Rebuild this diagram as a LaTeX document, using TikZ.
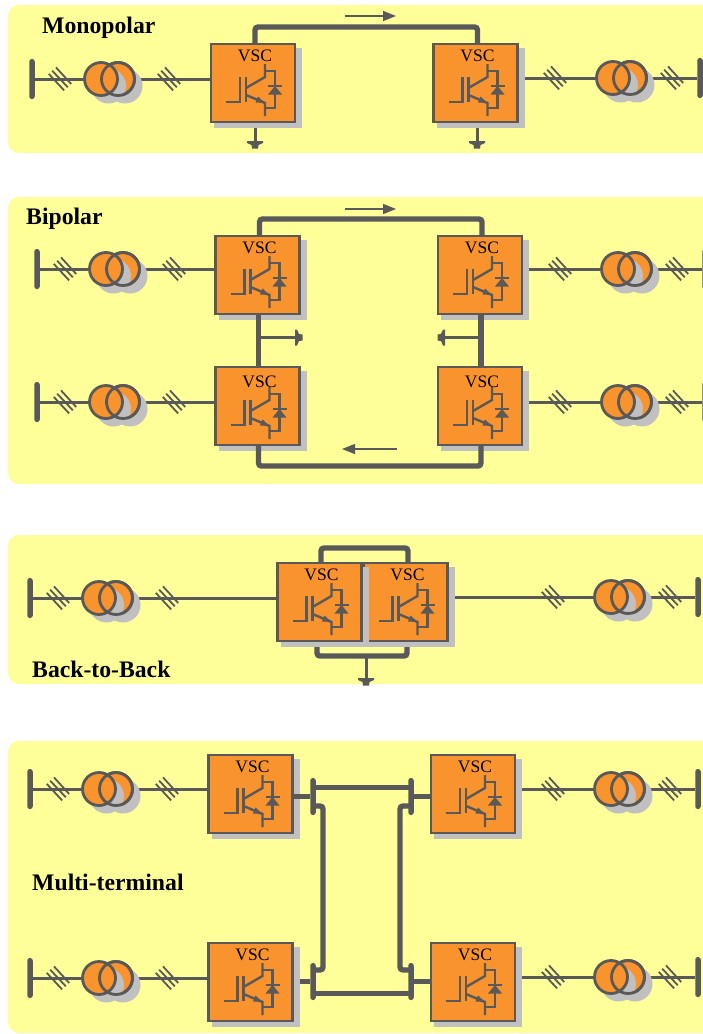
\documentclass[tikz,border=0pt]{standalone}
\usepackage{fontspec}
\setmainfont{Liberation Serif}
\usetikzlibrary{backgrounds,arrows.meta}

\definecolor{panelc}{HTML}{FFFF99}
\definecolor{wirec}{HTML}{595959}
\definecolor{orangec}{HTML}{F9932D}
\definecolor{shadec}{HTML}{C0C0C0}

\tikzset{
	wire/.style={draw=wirec, line width=3pt},
	thinline/.style={draw=wirec, line width=2.4pt},
	dcline/.style={draw=wirec, line width=5.4pt, rounded corners=3pt},
	flow/.style={draw=wirec, line width=1.1pt, -{Stealth[length=13pt,width=10pt,inset=0pt]}},
	panel/.style={fill=panelc, rounded corners=11pt},
	shade/.style={fill=shadec, draw=none},
	title/.style={font=\bfseries\fontsize{23.7}{26}\selectfont, anchor=base west, inner sep=0pt},
	vscnode/.style={draw=wirec, fill=orangec, line width=2.8pt, minimum width=84pt, minimum height=78pt, inner sep=0pt, outer sep=0pt, anchor=north west},
	vsclabel/.style={font=\fontsize{17.5}{19}\selectfont, anchor=base, inner sep=0pt},
	coil/.style={circle, draw=wirec, fill=orangec, line width=2.8pt, minimum size=33pt, inner sep=0pt, outer sep=0pt},
	busbar/.style={fill=wirec, rounded corners=2.5pt, minimum width=5.5pt, minimum height=40pt, inner sep=0pt, outer sep=0pt},
	dcbar/.style={fill=wirec, rounded corners=2.5pt, minimum width=5.5pt, minimum height=37pt, inner sep=0pt, outer sep=0pt},
	pics/vscbox/.style={code={
		\fill[shade] (3,4) rectangle (91,84);
		\node[vscnode] (-box) at (0,0) {};
		\node[vsclabel] (-lbl) at (44,#1) {VSC};
		\draw[thinline] (15,58) -- (29,58) -- (29,33);
		\draw[thinline] (35,33) -- (35,58);
		\draw[thinline] (35,44) -- (54,33) -- (54,20);
		\draw[thinline] (35,51) -- (54,59) -- (54,72);
		\fill[wirec] (54,59) -- (44.5,58.5) -- (47,52.5) -- cycle;
		\draw[thinline] (54,27) -- (64,27) -- (64,64) -- (54,64);
		\fill[wirec] (57,50.5) -- (71,50.5) -- (64,42) -- cycle;
		\draw[thinline] (57,42) -- (71,42);
	}},
	pics/xfmr/.style={code={
		\fill[shade] (15.5,7) circle [radius=17.5];
		\node[coil] (-b) at (8.5,0) {};
		\fill[shade] (-1,7) circle [radius=17.5];
		\node[coil] (-a) at (-8.5,0) {};
		\draw[draw=wirec, line width=2.8pt] (8.5,0) circle [radius=16.5];
	}},
	pics/ticks/.style={code={
		\draw[draw=wirec, line width=1.8pt] (-11.2,-5.1) -- (4.1,11.4);
		\draw[draw=wirec, line width=1.8pt] (-7.8,-8.3) -- (7.8,8.3);
		\draw[draw=wirec, line width=1.8pt] (-4,-11.6) -- (11.2,5);
	}},
	pics/gnd/.style={code={
		\coordinate (-top) at (0,0);
		\fill[wirec] (-8,-1) -- (8,-1) -- (8,1) -- (3.5,3) -- (3,6.5) -- (-3,6.5) -- (-3.5,3) -- (-8,1) -- cycle;
	}},
}

% bus, ticks and transformer on the left of a converter
\newcommand{\feederl}[4]{
	\node[busbar] (#1-bus) at (#2,#3) {};
	\pic at (#2+28,#3) {ticks};
	\pic at (#2+137,#3) {ticks};
	\pic (#1) at (#2+77.5,#3) {xfmr};
	\begin{scope}[on background layer]
		\draw[wire] (#1-bus) -- (#1-a);
		\draw[wire] (#1-b) -- (#1-b -| #4.west);
	\end{scope}
}
% the same on the right
\newcommand{\feederr}[4]{
	\node[busbar] (#1-bus) at (#2,#3) {};
	\pic at (#2-145,#3) {ticks};
	\pic at (#2-28,#3) {ticks};
	\pic (#1) at (#2-78.5,#3) {xfmr};
	\begin{scope}[on background layer]
		\draw[wire] (#1-bus) -- (#1-b);
		\draw[wire] (#1-a) -- (#1-a -| #4.east);
	\end{scope}
}

\begin{document}
\begin{tikzpicture}[x=1pt, y=-1pt]
	\useasboundingbox (0,0) rectangle (702,1034);

	\begin{scope}[on background layer]
		\fill[panel] (8,5) rectangle (725,153);
		\fill[panel] (8,197) rectangle (725,484);
		\fill[panel] (8,535) rectangle (725,684);
		\fill[panel] (8,741) rectangle (725,1033);
	\end{scope}

	% monopolar
	\node[title] (tmono) at (42,33) {Monopolar};
	\pic (ma) at (211,44) {vscbox=17};
	\pic (mb) at (433.5,44) {vscbox=17};
	\feederl{mtl}{32}{79}{ma-box}
	\feederr{mtr}{700}{78}{mb-box}
	\draw[dcline] ([xshift=2pt]ma-box.north) -- ++(0,-17) -| ([xshift=2pt]mb-box.north);
	\coordinate (mfa) at (345,16);
	\coordinate (mfb) at (396,16);
	\draw[flow] (mfa) -- (mfb);
	\pic (mga) at (255,142) {gnd};
	\pic (mgb) at (477,142) {gnd};
	\begin{scope}[on background layer]
		\draw[wire] (mga-top |- ma-box.south) -- (mga-top);
		\draw[wire] (mgb-top |- mb-box.south) -- (mgb-top);
	\end{scope}

	% bipolar
	\node[title] (tbip) at (26,224) {Bipolar};
	\pic (ba) at (215.5,236) {vscbox=17};
	\pic (bb) at (438,236) {vscbox=17};
	\pic (bc) at (215.5,367) {vscbox=20};
	\pic (bd) at (438,367) {vscbox=20};
	\feederl{btl}{37}{269}{ba-box}
	\feederr{btr}{705}{269}{bb-box}
	\feederl{bbl}{37}{402}{bc-box}
	\feederr{bbr}{705}{402}{bd-box}
	\draw[dcline] ([xshift=2pt]ba-box.north) -- ++(0,-17) -| ([xshift=2pt]bb-box.north);
	\draw[dcline] ([xshift=1pt]ba-box.south) -- ([xshift=1pt]bc-box.north);
	\draw[dcline] ([xshift=1pt]bb-box.south) -- ([xshift=1pt]bd-box.north);
	\draw[dcline] ([xshift=1pt]bc-box.south) -- ++(0,21) -| ([xshift=1pt]bd-box.south);
	\coordinate (bfa) at (345,209);
	\coordinate (bfb) at (396,209);
	\coordinate (bfc) at (397,449);
	\coordinate (bfd) at (342,449);
	\draw[flow] (bfa) -- (bfb);
	\draw[flow] (bfc) -- (bfd);
	\pic[rotate=90] (bga) at (296,337.5) {gnd};
	\pic[rotate=-90] (bgb) at (444,337.5) {gnd};
	\draw[wire] (bga-top -| ba-box.south) -- (bga-top);
	\draw[wire] (bgb-top -| bb-box.south) -- (bgb-top);

	% back-to-back
	\node[title] (tbtb) at (32,677) {Back-to-Back};
	\pic (cb) at (363.5,563) {vscbox=17};
	\pic (ca) at (277.5,563) {vscbox=17};
	\feederl{ctl}{30}{598}{ca-box}
	\feederr{ctr}{698}{597}{cb-box}
	\draw[dcline] ([xshift=1.5pt]ca-box.north) -- ++(0,-15) -| ([xshift=2.5pt]cb-box.north);
	\pic (cg) at (366,679) {gnd};
	\begin{scope}[on background layer]
		\draw[dcline] ([xshift=-2.5pt]ca-box.south) -- ++(0,15) -| ([xshift=1.5pt]cb-box.south);
		\draw[wire] (cg-top |- ca-box.south) ++(0,15) -- (cg-top);
	\end{scope}

	% multi-terminal
	\node[title] (tmul) at (32,890) {Multi-terminal};
	\pic (da) at (208.5,755) {vscbox=17};
	\pic (db) at (431,755) {vscbox=17};
	\pic (dc) at (208.5,943) {vscbox=17};
	\pic (dd) at (431,943) {vscbox=17};
	\feederl{dtl}{30}{789}{da-box}
	\feederr{dtr}{698}{789}{db-box}
	\feederl{dbl}{30}{978}{dc-box}
	\feederr{dbr}{698}{977}{dd-box}
	\node[dcbar] (ptl) at (313,796.5) {};
	\node[dcbar] (ptr) at (411,796.5) {};
	\node[dcbar] (pbl) at (313,981.5) {};
	\node[dcbar] (pbr) at (411,981.5) {};
	\draw[dcline] (ptl) -- (ptl -| da-box.east);
	\draw[dcline] (ptr) -- (ptr -| db-box.west);
	\draw[dcline] (pbr) -- (pbr -| dd-box.west);
	\begin{scope}[on background layer]
		\draw[dcline] (pbl) -- (pbl -| dc-box.east);
	\end{scope}
	\draw[dcline] ([yshift=9pt]ptl.center) -- ([yshift=9pt]ptr.center);
	\draw[dcline] ([yshift=-12pt]pbl.center) -- ([yshift=-12pt]pbr.center);
	\draw[dcline] ([yshift=-9.5pt]ptl.center) -- ++(10,0) |- ([yshift=11.5pt]pbl.center);
	\draw[dcline] ([yshift=-9.5pt]ptr.center) -- ++(-11,0) |- ([yshift=11.5pt]pbr.center);
\end{tikzpicture}
\end{document}
